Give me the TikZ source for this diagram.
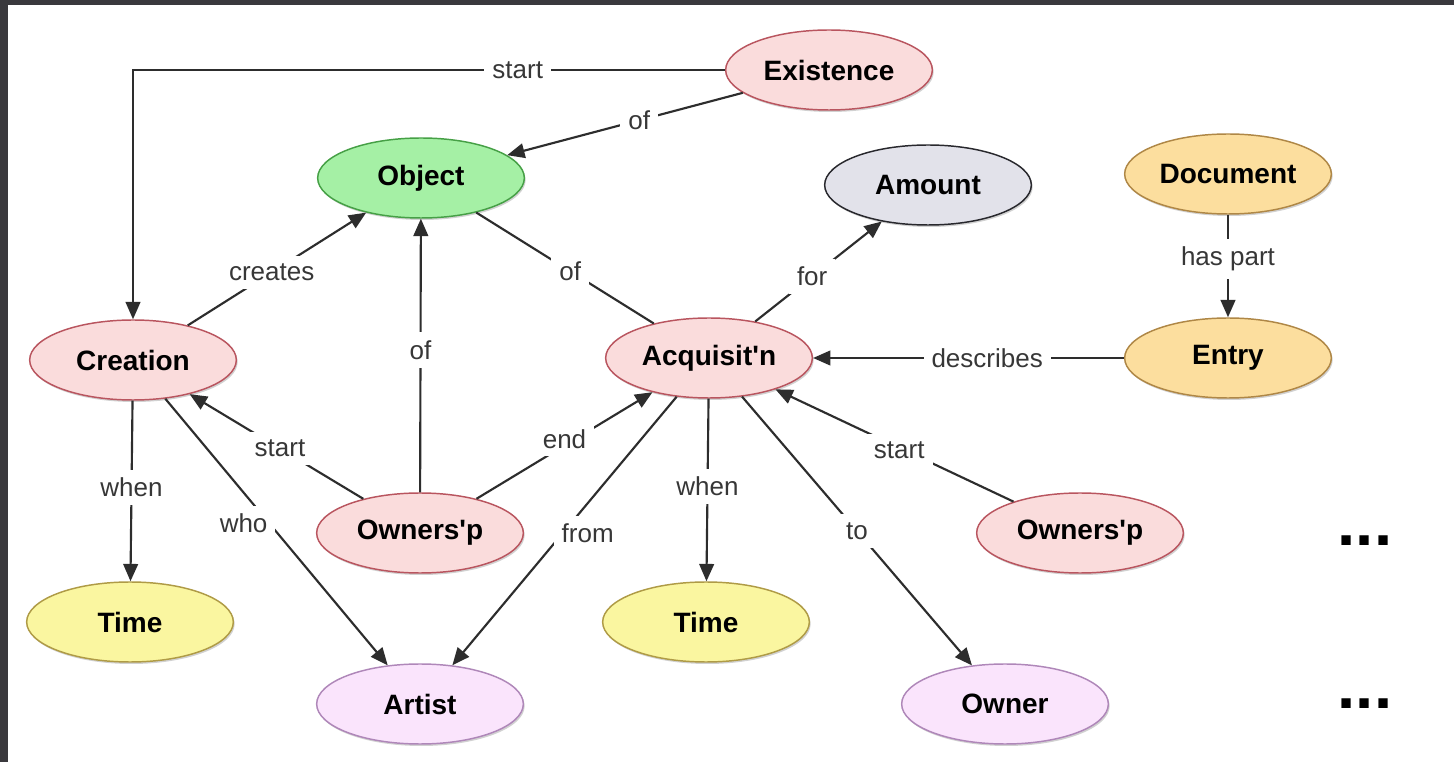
\documentclass[tikz,border=0pt]{standalone}
\usepackage{fontspec}
\setmainfont{Liberation Sans}
\usetikzlibrary{shapes.geometric,arrows.meta,shadows}
\definecolor{framegray}{RGB}{58,57,61}
\definecolor{linegray}{RGB}{45,45,45}
\definecolor{labelgray}{RGB}{55,55,55}
\definecolor{pinkfill}{RGB}{250,220,220}
\definecolor{pinkdraw}{RGB}{185,85,95}
\definecolor{greenfill}{RGB}{165,240,165}
\definecolor{greendraw}{RGB}{70,160,70}
\definecolor{grayfill}{RGB}{226,226,234}
\definecolor{graydraw}{RGB}{40,40,45}
\definecolor{orangefill}{RGB}{252,222,158}
\definecolor{orangedraw}{RGB}{175,135,70}
\definecolor{yellowfill}{RGB}{250,246,160}
\definecolor{yellowdraw}{RGB}{175,155,70}
\definecolor{purplefill}{RGB}{250,228,252}
\definecolor{purpledraw}{RGB}{175,135,185}
\tikzset{
  concept/.style={ellipse, draw, line width=1.1pt, minimum width=155pt, minimum height=60pt,
    inner sep=0pt, font=\fontsize{21}{24}\selectfont\bfseries, text=black,
    drop shadow={shadow xshift=1pt, shadow yshift=-1.5pt, opacity=0.18, fill=black}},
  pinkc/.style={concept, fill=pinkfill, draw=pinkdraw},
  greenc/.style={concept, fill=greenfill, draw=greendraw},
  grayc/.style={concept, fill=grayfill, draw=graydraw},
  orangec/.style={concept, fill=orangefill, draw=orangedraw},
  yellowc/.style={concept, fill=yellowfill, draw=yellowdraw},
  purplec/.style={concept, fill=purplefill, draw=purpledraw},
  link/.style={draw=linegray, line width=1.6pt},
  arrowlink/.style={link, -{Triangle[length=13pt,width=11pt]}},
  lbl/.style={fill=white, font=\fontsize{19.5}{22}\selectfont, text=labelgray, inner sep=6pt},
  more/.style={font=\fontsize{49}{55}\selectfont\bfseries, anchor=base, inner sep=0pt}
}
\begin{document}
\begin{tikzpicture}[x=0.75pt,y=-0.75pt]
\useasboundingbox (0,0) rectangle (1454,762);
\fill[white] (0,0) rectangle (1454,762);
\fill[framegray] (0,0) rectangle (1454,5);
\fill[framegray] (0,0) rectangle (8,762);

\node[pinkc]   (exist) at (829,70)  {Existence};
\node[greenc]  (obj)   at (421,178) {Object};
\node[grayc]   (amt)   at (928,185) {Amount};
\node[orangec] (doc)   at (1228,174) {Document};
\node[pinkc]   (cre)   at (133,360) {Creation};
\node[pinkc]   (acq)   at (709,358) {Acquisit\textquotesingle n};
\node[orangec] (entry) at (1228,358) {Entry};
\node[pinkc]   (own1)  at (420,533) {Owners\textquotesingle p};
\node[pinkc]   (own2)  at (1080,533) {Owners\textquotesingle p};
\node[yellowc] (time1) at (130,622) {Time};
\node[yellowc] (time2) at (706,622) {Time};
\node[purplec] (artist) at (420,704) {Artist};
\node[purplec] (owner) at (1005,704) {Owner};
\node[more] (dots1) at (1365,546) {...};
\node[more] (dots2) at (1365,709) {...};

\coordinate (corner) at (133,70);
\draw[arrowlink] (exist.west) -- node[lbl, pos=0.35] {start} (corner) -- (cre);
\draw[arrowlink] (exist) -- node[lbl, pos=0.44] {of} (obj);
\draw[arrowlink] (cre) -- node[lbl, pos=0.47] {creates} (obj);
\draw[link] (acq) -- node[lbl, pos=0.47] {of} (obj);
\draw[arrowlink] (own1) -- node[lbl, pos=0.52] {of} (obj);
\draw[arrowlink] (own1) -- node[lbl, pos=0.48] {start} (cre);
\draw[arrowlink] (own1) -- node[lbl, pos=0.5, yshift=5pt] {end} (acq);
\draw[arrowlink] (cre) -- node[lbl, pos=0.48] {when} (time1);
\draw[arrowlink] (cre) -- node[lbl, pos=0.43, xshift=-13pt, yshift=-7.5pt] {who} (artist);
\draw[arrowlink] (acq) -- node[lbl, pos=0.48, xshift=14pt, yshift=-6pt] {from} (artist);
\draw[arrowlink] (acq) -- node[lbl, pos=0.48] {when} (time2);
\draw[arrowlink] (acq) -- node[lbl, pos=0.5] {to} (owner);
\draw[arrowlink] (own2) -- node[lbl, pos=0.48, yshift=-2pt] {start} (acq);
\draw[arrowlink] (acq) -- node[lbl, pos=0.45] {for} (amt);
\draw[arrowlink] (entry) -- node[lbl, pos=0.44] {describes} (acq);
\draw[arrowlink] (doc) -- node[lbl, pos=0.43] {has part} (entry);
\end{tikzpicture}
\end{document}
